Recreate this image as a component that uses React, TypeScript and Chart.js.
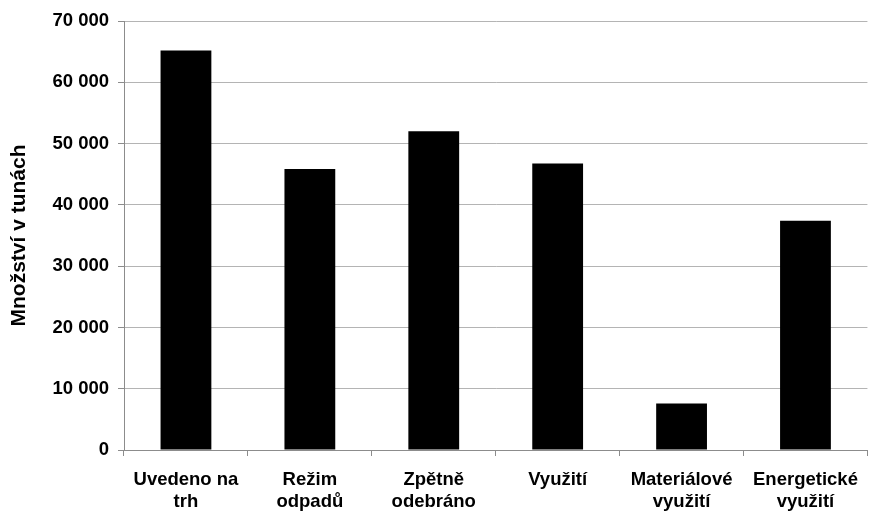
import React, { useEffect, useRef } from "react";
import { Chart, registerables } from "chart.js";

Chart.register(...registerables);

// Categories (two-line labels)
const categories: string[][] = [
  ["Uvedeno na", "trh"],
  ["Režim", "odpadů"],
  ["Zpětně", "odebráno"],
  ["Využití"],
  ["Materiálové", "využití"],
  ["Energetické", "využití"],
];

// Quantities in tonnes
const quantities: number[] = [65200, 45850, 52000, 46750, 7600, 37400];

const yAxisTitle = "Množství v tunách";
const yMin = 0;
const yMax = 70000;
const yStep = 10000;

const formatThousands = (v: number): string =>
  String(v).replace(/\B(?=(\d{3})+(?!\d))/g, " ");

const FONT = "'Liberation Sans', Arial, Helvetica, sans-serif";

export default function App() {
  const canvasRef = useRef<HTMLCanvasElement | null>(null);

  useEffect(() => {
    if (!canvasRef.current) return;
    const chart = new Chart(canvasRef.current, {
      type: "bar",
      data: {
        labels: categories,
        datasets: [
          {
            data: quantities,
            backgroundColor: "#000000",
            borderWidth: 0,
            categoryPercentage: 1,
            barPercentage: 0.41,
          },
        ],
      },
      options: {
        responsive: false,
        animation: false,
        layout: { padding: { top: 21, right: 1, left: 0, bottom: 0 } },
        plugins: {
          legend: { display: false },
          tooltip: { enabled: false },
        },
        scales: {
          x: {
            grid: {
              display: true,
              drawOnChartArea: false,
              offset: true,
              tickLength: 6,
              color: "#8c8c8c",
            },
            border: { color: "#8c8c8c", width: 1 },
            ticks: {
              color: "#000000",
              font: { family: FONT, size: 18.5, weight: "bold", lineHeight: 1.2 },
              padding: 13,
              maxRotation: 0,
              autoSkip: false,
            },
            afterFit: (scale: any) => {
              scale.height = 61;
            },
          },
          y: {
            min: yMin,
            max: yMax,
            grid: {
              color: "#b4b4b4",
              tickLength: 6,
              tickColor: "#8c8c8c",
            },
            border: { color: "#8c8c8c", width: 1 },
            ticks: {
              stepSize: yStep,
              color: "#000000",
              font: { family: FONT, size: 18.5, weight: "bold" },
              padding: 9,
              callback: (v: any) => formatThousands(Number(v)),
            },
            title: {
              display: true,
              text: yAxisTitle,
              color: "#000000",
              font: { family: FONT, size: 21, weight: "bold" },
              padding: { top: 7, bottom: 0 },
            },
            afterFit: (scale: any) => {
              scale.width = 124;
            },
          },
        },
      },
    });
    return () => chart.destroy();
  }, []);

  return (
    <div style={{ position: "absolute", left: 0, top: 0, width: 871, height: 511, background: "#ffffff" }}>
      <canvas ref={canvasRef} width={871} height={511} />
    </div>
  );
}
